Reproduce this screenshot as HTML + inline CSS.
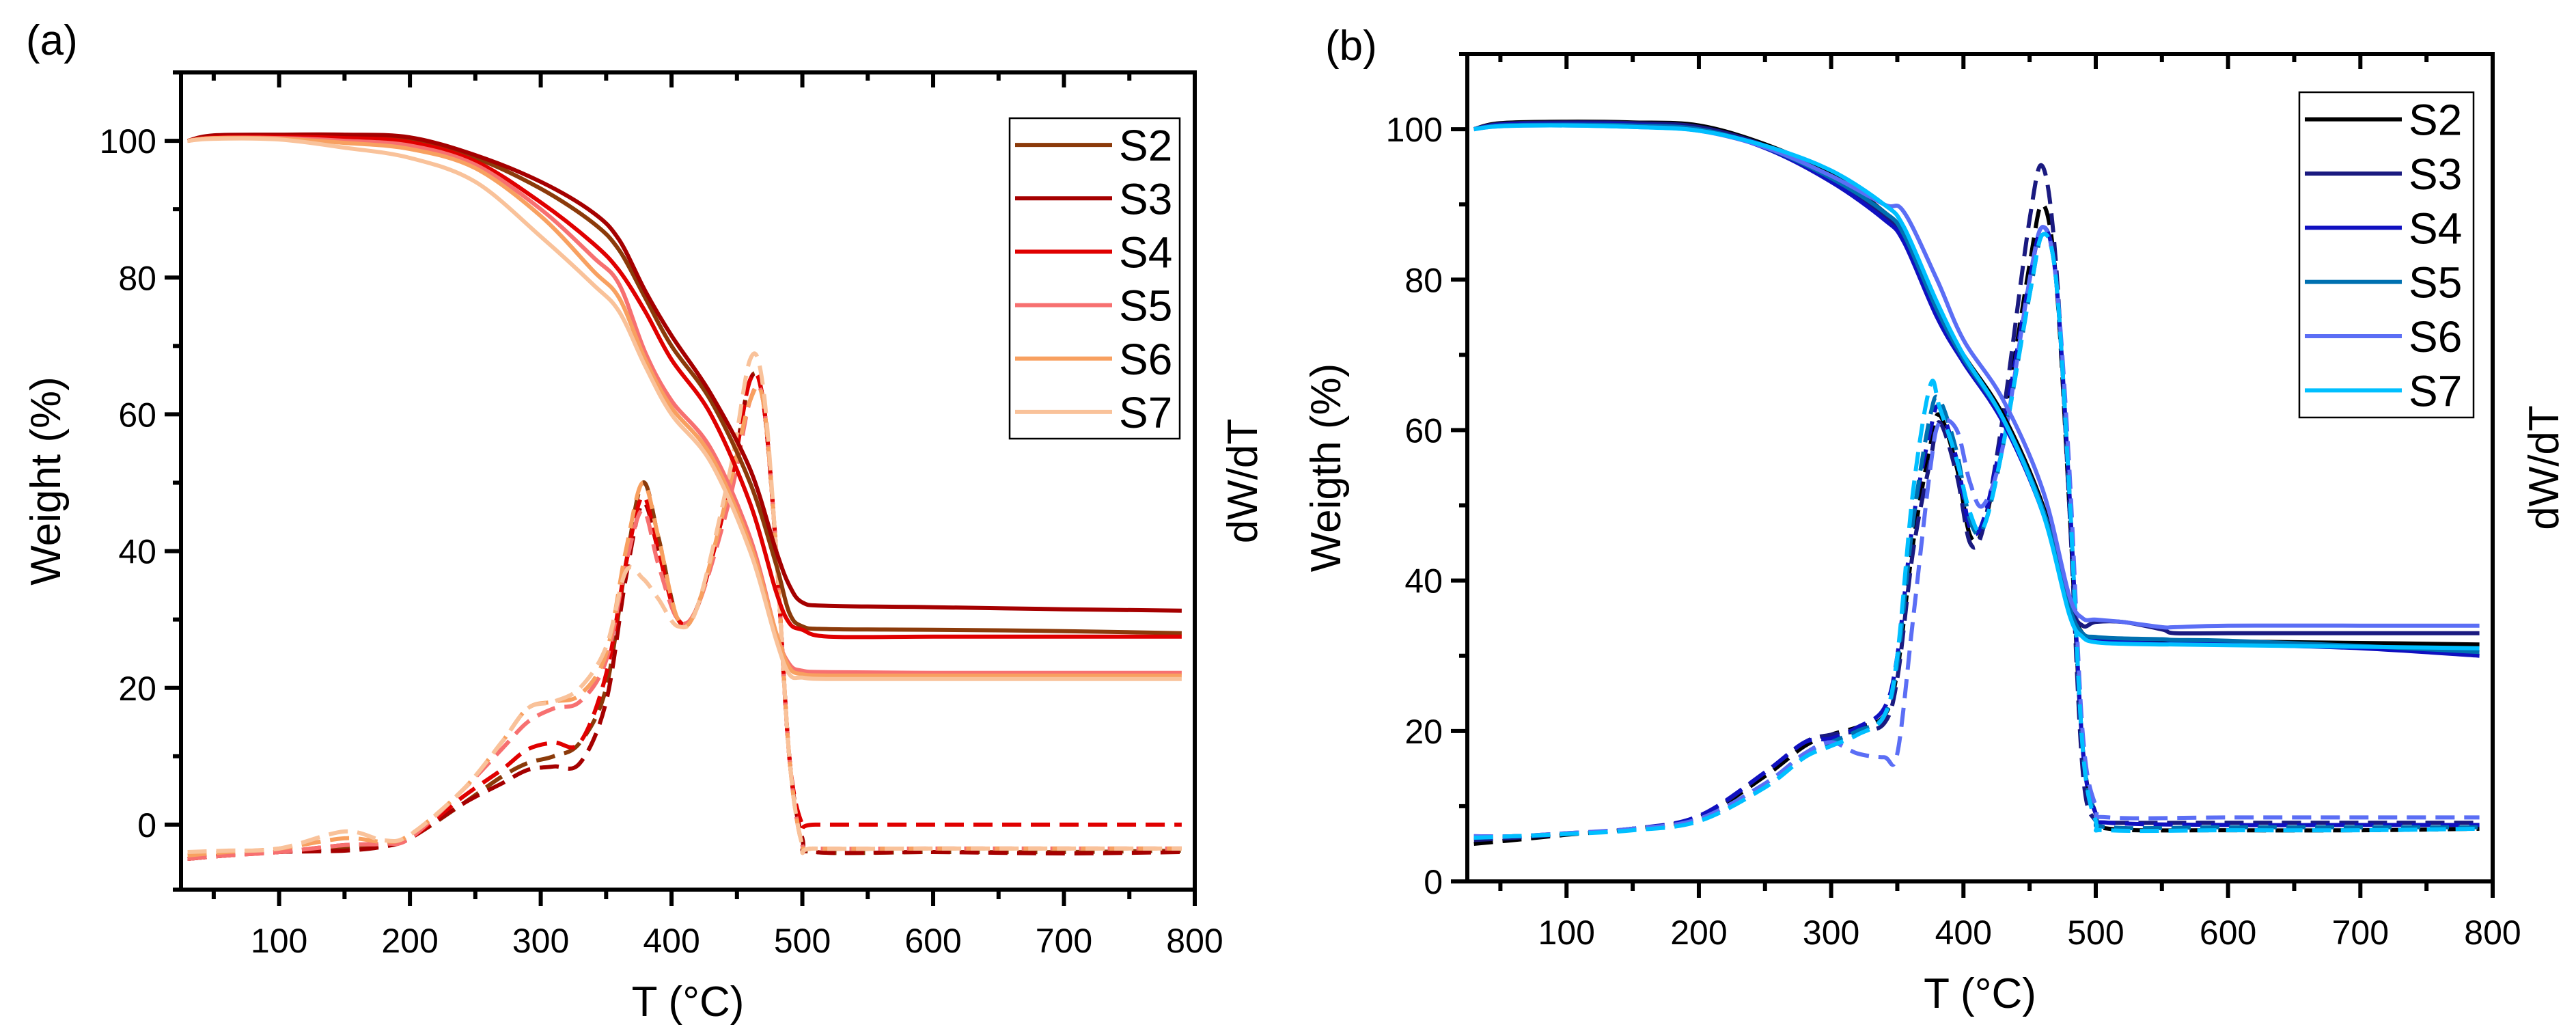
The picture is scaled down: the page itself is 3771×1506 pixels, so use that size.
<!DOCTYPE html>
<html><head><meta charset="utf-8"><style>
html,body{margin:0;padding:0;background:#fff;}
svg{display:block;font-family:"Liberation Sans",Arial,sans-serif;}
</style></head><body>
<svg id="fig" width="3771" height="1506" viewBox="0 0 3771 1506" xmlns="http://www.w3.org/2000/svg">
<g id="pa"></g>
<g id="pb"></g>
</svg>
<script>
// ---------- data: panel a ----------
const seriesNames = ["S2","S3","S4","S5","S6","S7"];
const colorsA = ["#8B3A0A","#A50000","#E00000","#F77070","#F8A060","#F9C29A"];
const colorsB = ["#000000","#1A1A80","#1010C0","#0070B0","#5B6EF5","#00BFFF"];
const xTicks = [100,200,300,400,500,600,700,800];
const yTicksA = [0,20,40,60,80,100];
const yTicksB = [0,20,40,60,80,100];

const tA_T = [30,50,100,150,200,250,300,340,360,380,400,430,460,480,490,500,520,600,700,790];
const tgaA_S2 = [100,100.7,100.8,100.7,100.2,97.5,93,88,84,77,70,62,50,38,31,29,28.6,28.5,28.3,28];
const tgaA_S3 = [100,100.8,100.9,100.9,100.5,97.9,94,89.5,85.5,78,71.5,63,52,40,35,32.5,32,31.8,31.5,31.3];
const tgaA_S4 = [100,100.5,100.6,100.4,99.8,97,91,85,81,75,68,60,47,34,29.5,28.5,27.5,27.5,27.5,27.5];
const tgaA_S5 = [100,100.4,100.4,100,99.3,96.5,90,83,79,69,62,55,42,28,23.5,22.5,22.3,22.2,22.2,22.2];
const tgaA_S6 = [100,100.4,100.3,99.7,98.8,96,89,81,77,68,61,54,41,28,23,22,21.8,21.8,21.8,21.8];
const tgaA_S7 = [100,100.3,100.2,99,97.5,94,86,79,75,67,60,53,40,27,22,21.5,21.3,21.3,21.3,21.3];

const dA_T = [30,60,100,150,180,200,240,270,290,310,330,350,365,378,390,405,420,445,460,470,480,490,500,510,600,700,790];
const dtgA_S2 = [-5,-4.5,-4,-3.5,-3,-2,3,7,9,10,12,20,38,50,42,30,32,50,65,62,40,10,-2,-4,-4,-4,-3.8];
const dtgA_S3 = [-5,-4.5,-4,-3.8,-3.2,-2,3,6,8,8.5,9,18,36,47,40,30,32,50,65,62,40,10,-2,-4,-4,-4.2,-4];
const dtgA_S4 = [-5,-4.5,-4,-3,-2.8,-2,4,8,11,12,12,22,38,48,40,30,32,50,65,62,40,10,0,0,0,0,0];
const dtgA_S5 = [-5,-4.5,-4,-3,-2.8,-2,5,11,15,17,18,24,38,46,38,30,32,48,62,62,40,10,-3,-3.5,-3.5,-3.5,-3.5];
const dtgA_S6 = [-4.5,-4,-3.5,-2,-2.5,-1.5,5,12,17,18,19,25,40,50,42,30,32,50,62,62,40,10,-3,-3.5,-3.5,-3.5,-3.5];
const dtgA_S7 = [-4,-3.8,-3.5,-1,-2.3,-1.5,5,12,17,18,20,26,37,36,33,29,32,52,68,64,40,10,-3,-3.5,-3.5,-3.5,-3.5];

// ---------- data: panel b ----------
const tB_T = [30,50,100,150,200,250,300,340,355,380,400,430,460,480,490,500,520,550,560,600,700,790];
const tgaB_S2 = [100,100.8,101,100.9,100.5,98,94,89,86,76,70,62,50,37,33,32.2,32,32,32,31.9,31.7,31.5];
const tgaB_S3 = [100,100.7,100.9,100.8,100.3,97.8,93.5,88.5,85.5,76,69.5,61.5,49.5,37,34,34.5,34.5,33.5,33,33,33,33];
const tgaB_S4 = [100,100.6,100.7,100.6,100,97.5,93,88,85,75,69,61,49,36,33,32,31.8,31.6,31.6,31.5,31,30];
const tgaB_S5 = [100,100.5,100.6,100.5,100,97.6,93.5,89,86,76,69.5,61.5,49.5,36.5,33,32.5,32.3,32.2,32.1,32,31.3,30.5];
const tgaB_S6 = [100,100.4,100.5,100.3,99.8,97.6,93.8,90,89,80,72,64,52,38,35,34.8,34.5,33.8,33.8,34,34,34];
const tgaB_S7 = [100,100.4,100.5,100.3,99.8,97.8,94.5,90,87,77,70,61.5,49,35.5,32.5,31.8,31.6,31.5,31.5,31.4,31.2,31];

const dB_T = [30,60,100,150,200,250,280,300,320,340,350,362,375,382,395,405,415,430,450,460,470,480,490,500,510,600,700,790];
const dtgB_S2 = [5,5.5,6.2,7,8.5,14,18,19.5,20.5,22,28,45,58,62,55,46,47,60,82,90,80,50,18,9,7,6.8,6.8,7];
const dtgB_S3 = [5.5,5.8,6.3,7,8.5,14.5,18.5,19.5,20,21,27,44,56,61,54,45,47,62,88,95,82,50,15,8,7.8,7.8,7.8,7.8];
const dtgB_S4 = [6,6,6.4,7,8.7,14.5,18.5,19,20.5,23,30,48,60,63,56,47,48,60,80,87,80,52,18,9,7.8,7.5,7.5,7.5];
const dtgB_S5 = [5.8,6,6.3,7,8.3,13,17,18.5,20,22,29,48,62,64,57,48,47,58,78,86,80,52,18,9,7.2,7.2,7.2,7.2];
const dtgB_S6 = [6,6,6.4,7,8.3,13,17,18.5,17,16.5,17,35,55,61,60,53,50,58,80,87,80,55,20,10,8.5,8.5,8.5,8.5];
const dtgB_S7 = [5.8,6,6.3,6.8,8,12.5,16.5,18,19.5,22,30,52,66,63,56,49,47,58,78,86,80,52,18,8,6.8,6.8,6.8,7];

const NS = "http://www.w3.org/2000/svg";
function mk(parent, tag, attrs, text){
  const e = document.createElementNS(NS, tag);
  for (const k in attrs) e.setAttribute(k, attrs[k]);
  if (text !== undefined) e.textContent = text;
  parent.appendChild(e);
  return e;
}
// Catmull-Rom smoothing
function smooth(pts){
  let d = "M" + pts[0][0].toFixed(1) + "," + pts[0][1].toFixed(1);
  for (let i = 0; i < pts.length - 1; i++) {
    const p0 = pts[Math.max(0, i - 1)], p1 = pts[i], p2 = pts[i + 1], p3 = pts[Math.min(pts.length - 1, i + 2)];
    const t = 0.5 / 3;
    const c1 = [p1[0] + (p2[0] - p0[0]) * t, p1[1] + (p2[1] - p0[1]) * t];
    const c2 = [p2[0] - (p3[0] - p1[0]) * t, p2[1] - (p3[1] - p1[1]) * t];
    d += "C" + c1[0].toFixed(1) + "," + c1[1].toFixed(1) + " " + c2[0].toFixed(1) + "," + c2[1].toFixed(1) + " " + p2[0].toFixed(1) + "," + p2[1].toFixed(1);
  }
  return d;
}

function drawPanel(g, cfg){
  const {L,R,T,B,ymin,ymax,xmin,xmax} = cfg;
  const sx = v => L + (v - xmin) / (xmax - xmin) * (R - L);
  const sy = v => B - (v - ymin) / (ymax - ymin) * (B - T);

  const cid = "clip" + cfg.id;
  const defs = mk(g, "defs", {});
  const cp = mk(defs, "clipPath", {id: cid});
  mk(cp, "rect", {x: L, y: T, width: R - L, height: B - T});

  const marks = mk(g, "g", {"clip-path": "url(#" + cid + ")"});
  
  

  cfg.dtg.forEach((arr, i) => {
    const d = smooth(arr.map((v, j) => [sx(cfg.dT[j]), sy(v)]));
    const p = mk(marks, "path", {d, fill: "none", stroke: cfg.colors[i], "stroke-width": 6, "stroke-dasharray": "28,14", "stroke-linejoin": "round"});
    
    
  });
  cfg.tga.forEach((arr, i) => {
    const d = smooth(arr.map((v, j) => [sx(cfg.tT[j]), sy(v)]));
    const p = mk(marks, "path", {d, fill: "none", stroke: cfg.colors[i], "stroke-width": 6, "stroke-linejoin": "round"});
    
    
  });

  const ax = mk(g, "g", {stroke: "#000", "stroke-width": 6, fill: "none"});
  
  
  mk(ax, "path", {d: `M${L-12},${T}H${R}V${B+24}M${L},${T}V${B}M${L-12},${B}H${R}`});

  for (let v = 50; v <= 800; v += 50) {
    const major = v % 100 === 0;
    const x = sx(v);
    mk(ax, "line", {x1: x, y1: B, x2: x, y2: B + (major ? 24 : 14)});
    mk(ax, "line", {x1: x, y1: T, x2: x, y2: T + (major ? 22 : 12)});
  }
  xTicks.forEach(v => {
    const t = mk(g, "text", {x: sx(v), y: B + 92, "font-size": 50, "text-anchor": "middle", fill: "#000"}, String(v));
    
    
  });
  for (let v = 0; v <= 100; v += 10) {
    const major = v % 20 === 0;
    const y = sy(v);
    mk(ax, "line", {x1: L, y1: y, x2: L - (major ? 24 : 12), y2: y});
  }
  cfg.yTicks.forEach(v => {
    const t = mk(g, "text", {x: L - 36, y: sy(v) + 18, "font-size": 50, "text-anchor": "end", fill: "#000"}, String(v));
    
    
  });

  let t = mk(g, "text", {x: (L + R) / 2, y: B + 185, "font-size": 62, "text-anchor": "middle", fill: "#000"}, "T (°C)");
  
  
  const ym = (T + B) / 2;
  t = mk(g, "text", {x: cfg.ylabX, y: ym, "font-size": 62, "text-anchor": "middle", fill: "#000", transform: `rotate(-90 ${cfg.ylabX} ${ym})`}, cfg.ylab);
  
  
  t = mk(g, "text", {x: cfg.rlabX, y: ym, "font-size": 62, "text-anchor": "middle", fill: "#000", transform: `rotate(-90 ${cfg.rlabX} ${ym})`}, "dW/dT");
  
  
  t = mk(g, "text", {x: cfg.tagX, y: cfg.tagY, "font-size": 62, fill: "#000"}, cfg.tag);
  
  

  const lg = mk(g, "g", {});
  
  
  const [lx, ly, lw, lh] = cfg.leg;
  mk(lg, "rect", {x: lx, y: ly, width: lw, height: lh, fill: "#fff", stroke: "#000", "stroke-width": 2.5});
  const step = lh / 6;
  seriesNames.forEach((n, i) => {
    const yy = ly + step * (i + 0.5);
    const e = mk(lg, "g", {});
    
    
    mk(e, "line", {x1: lx + 8, y1: yy, x2: lx + 150, y2: yy, stroke: cfg.colors[i], "stroke-width": 6});
    mk(e, "text", {x: lx + 160, y: yy + 23, "font-size": 64, fill: "#000"}, n);
  });
}

drawPanel(document.getElementById("pa"), {
  id: "a", L: 265, R: 1749, T: 106, B: 1302, xmin: 25, xmax: 800, ymin: -9.5, ymax: 110,
  colors: colorsA, yTicks: yTicksA,
  tT: tA_T, tga: [tgaA_S2, tgaA_S3, tgaA_S4, tgaA_S5, tgaA_S6, tgaA_S7],
  dT: dA_T, dtg: [dtgA_S2, dtgA_S3, dtgA_S4, dtgA_S5, dtgA_S6, dtgA_S7],
  ylab: "Weight (%)", ylabX: 88, rlabX: 1840, tag: "(a)", tagX: 38, tagY: 80,
  leg: [1478, 173, 249, 469]
});
drawPanel(document.getElementById("pb"), {
  id: "b", L: 2148, R: 3649, T: 79, B: 1290, xmin: 25, xmax: 800, ymin: 0, ymax: 110,
  colors: colorsB, yTicks: yTicksB,
  tT: tB_T, tga: [tgaB_S2, tgaB_S3, tgaB_S4, tgaB_S5, tgaB_S6, tgaB_S7],
  dT: dB_T, dtg: [dtgB_S2, dtgB_S3, dtgB_S4, dtgB_S5, dtgB_S6, dtgB_S7],
  ylab: "Weigth (%)", ylabX: 1962, rlabX: 3745, tag: "(b)", tagX: 1940, tagY: 88,
  leg: [3366, 135, 255, 476]
});
</script>
</body></html>
